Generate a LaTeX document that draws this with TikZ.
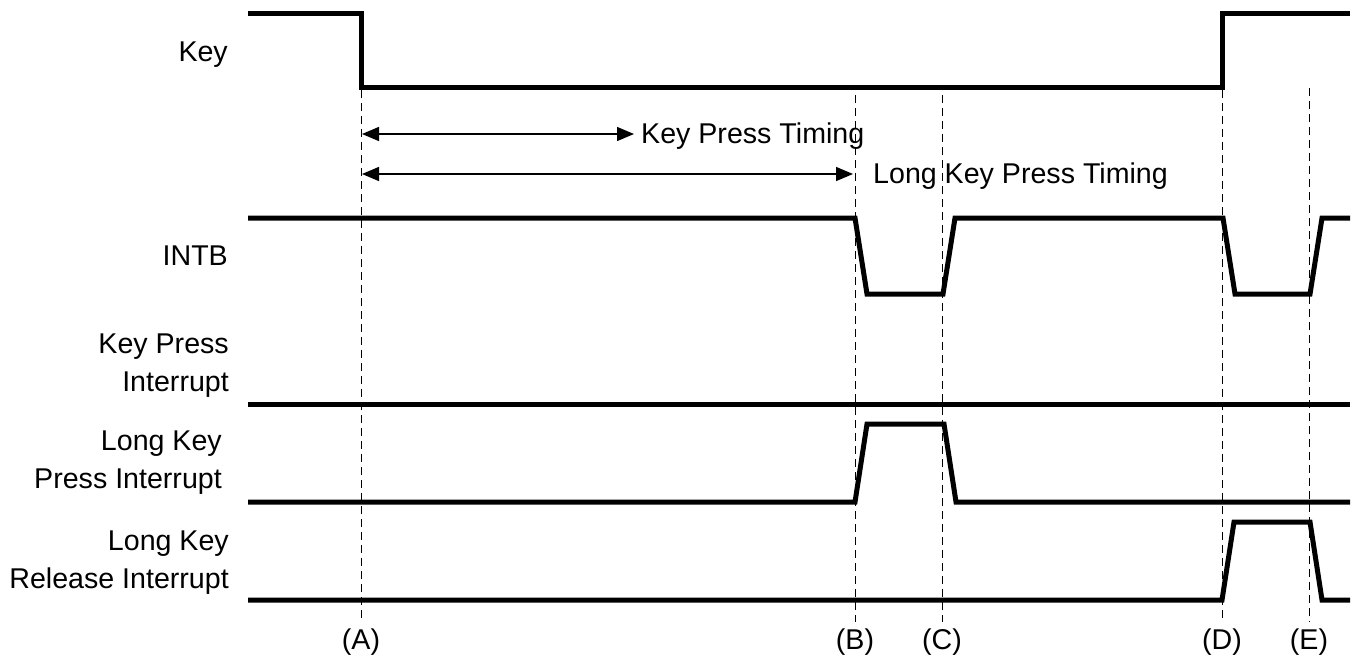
\documentclass[tikz,border=0pt]{standalone}
\usepackage{fontspec}
\setmainfont{Liberation Sans}
\usetikzlibrary{arrows.meta}
\begin{document}
\begin{tikzpicture}[x=1pt,y=-1pt,
  sig/.style={line width=5pt, line join=miter, line cap=butt},
  guide/.style={line width=1pt, dash pattern=on 8pt off 5pt},
  tarrow/.style={line width=1.4pt, {Triangle[length=17pt,width=14pt]}-{Triangle[length=17pt,width=14pt]}},
  lbl/.style={font=\fontsize{28.6}{38}\selectfont, align=right, anchor=east, inner sep=0pt},
  evt/.style={font=\fontsize{28.6}{34}\selectfont, inner sep=0pt},
  ttxt/.style={font=\fontsize{28.6}{34}\selectfont, anchor=west, inner sep=0pt}]
\useasboundingbox (0,0) rectangle (1356,657);

% guide lines (events A-E)
\draw[guide] (361,90) -- (361,622);
\draw[guide] (855,95) -- (855,622);
\draw[guide] (942,95) -- (942,622);
\draw[guide] (1222,90) -- (1222,622);
\draw[guide] (1309,88) -- (1309,622);

% signal labels
\node[lbl] (lkey) at (228,55) {Key};
\node[lbl] (lintb) at (228,256) {INTB};
\node[lbl] (lkpi) at (229,366) {Key Press\\Interrupt};
\node[lbl] (llkpi) at (222,463) {Long Key\\Press Interrupt};
\node[lbl] (llkri) at (229,563) {Long Key\\Release Interrupt};

% Key
\draw[sig] (248,13) -- (361,13) -- (361,87) -- (1222,87) -- (1222,13) -- (1350,13);
% INTB
\draw[sig] (248,218) -- (855,218) -- (867,294) -- (943,294) -- (955,218) -- (1223,218) -- (1235,294) -- (1310,294) -- (1322,218) -- (1350,218);
% Key Press Interrupt
\draw[sig] (248,404) -- (1350,404);
% Long Key Press Interrupt
\draw[sig] (248,502) -- (855,502) -- (867,424) -- (944,424) -- (956,502) -- (1350,502);
% Long Key Release Interrupt
\draw[sig] (248,600) -- (1222,600) -- (1234,522) -- (1310,522) -- (1322,600) -- (1350,600);

% timing arrows
\coordinate (k1) at (362,134);
\coordinate (k2) at (634,134);
\coordinate (l1) at (362,174);
\coordinate (l2) at (853,174);
\draw[tarrow] (k1) -- (k2);
\draw[tarrow] (l1) -- (l2);
\node[ttxt] (tk) at (641,136) {Key Press Timing};
\node[ttxt] (tl) at (873,176) {Long Key Press Timing};

% event labels
\node[evt] (eA) at (361,642) {(A)};
\node[evt] (eB) at (855,642) {(B)};
\node[evt] (eC) at (942,642) {(C)};
\node[evt] (eD) at (1222,642) {(D)};
\node[evt] (eE) at (1309,642) {(E)};
\end{tikzpicture}
\end{document}
